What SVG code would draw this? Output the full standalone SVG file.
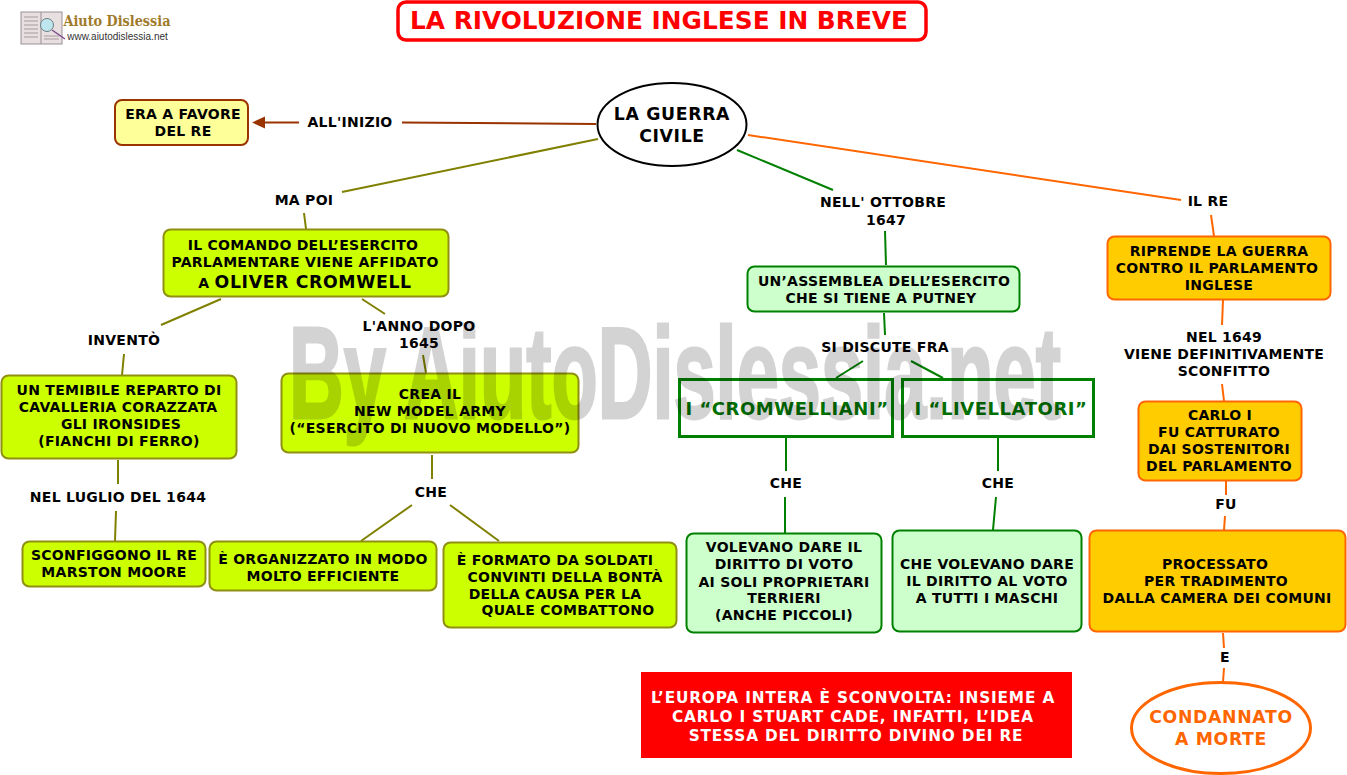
<svg xmlns="http://www.w3.org/2000/svg" width="1347" height="775" viewBox="0 0 1347 775">
<style>
text{font-family:"DejaVu Sans","Liberation Sans",sans-serif;font-weight:bold;font-size:14px;letter-spacing:.27px;text-anchor:middle;fill:#000}
.big{font-size:17.3px;letter-spacing:.65px}
.c{fill:none;stroke-width:2}
.ol{stroke:#808000}.gr{stroke:#008000}.or{stroke:#ff6600}.br{stroke:#993300}
.y{fill:#ccff00;stroke:#8f8f10;stroke-width:2}
.m{fill:#ccffcc;stroke:#008000;stroke-width:2}
.o{fill:#ffcc00;stroke:#ff6600;stroke-width:2}
.b{fill:none;stroke:#008000;stroke-width:3}
.gt{fill:#007000;font-size:18px;letter-spacing:.55px}
.w{fill:#fff;font-size:15.3px;letter-spacing:.85px}
</style>
<rect width="1347" height="775" fill="#fff"/>
<g id="logo">
<rect x="21" y="12" width="41" height="32" fill="#e8dfe0" stroke="#9a8f95"/>
<line x1="41" y1="12" x2="41" y2="44" stroke="#9a8f95"/>
<path d="M24 17H38M24 21H38M24 25H38M24 29H38M24 33H38M24 37H38M44 36H59M44 39H59" stroke="#a89aa0" stroke-width="1"/>
<circle cx="47" cy="25" r="6.500" fill="#bfe6ee" stroke="#6d7f80"/>
<line x1="52" y1="30" x2="65" y2="39" stroke="#7a4a8a" stroke-width="1.500"/>
<text x="117" y="26" style="font-family:'DejaVu Serif',serif;font-size:14px;letter-spacing:0;fill:#a07a2a" textLength="107" lengthAdjust="spacingAndGlyphs">Aiuto Dislessia</text>
<text x="117.500" y="40" style="font-family:'Liberation Sans',sans-serif;font-size:10px;letter-spacing:0;font-weight:normal;fill:#333">www.aiutodislessia.net</text>
</g>
<g id="title"><rect x="398" y="2" width="528" height="38" rx="8" fill="#fff" stroke="#ff0000" stroke-width="3.500"/>
<text x="659" y="29" style="font-size:24px;letter-spacing:0;fill:#ff0000" textLength="498" lengthAdjust="spacingAndGlyphs">LA RIVOLUZIONE INGLESE IN BREVE</text></g>
<g id="connectors">
<path class="c br" d="M299 122.500H265M402 122.500L596 124"/>
<path d="M252 122.500L265 116.500V128.500Z" fill="#993300"/>
<path class="c ol" d="M342 192L598 139M304 213L306 229M221 299L161 325M124 354L122 375M362 299L385 314M423 355L426 373M118 460V484M116 511L115 541M432 455V479M412 505L361 541M450 505L499 541"/>
<path class="c gr" d="M737 150L833 190M885 231L886 265M884 313L885 335M863 361L836 378M911 361L943 378M786 438V471M785 497V533M998 438V471M996 497L993 530"/>
<path class="c or" d="M748 135L1181 200M1211 215L1214 236M1223 300L1222 325M1222 384L1224 401M1226 481V495M1225 516L1224 530M1223 633L1224 648M1224 668L1223 682"/>
</g>
<g id="n-centrale"><ellipse cx="672" cy="124.500" rx="74.500" ry="41.500" fill="#fff" stroke="#000" stroke-width="2"/><text x="672" y="120" class="big">LA GUERRA</text><text x="672" y="142" class="big">CIVILE</text></g>
<g id="n-favore"><rect x="115" y="100" width="133" height="45" rx="7" fill="#ffff99" stroke="#993300" stroke-width="2"/><text x="183" y="119">ERA A FAVORE</text><text x="183" y="136">DEL RE</text></g>
<g id="n-comando"><rect x="163.500" y="229.500" width="285" height="67" rx="7" class="y"/><text x="303" y="250">IL COMANDO DELL’ESERCITO</text><text x="305" y="267">PARLAMENTARE VIENE AFFIDATO</text><text x="305" y="288"><tspan>A </tspan><tspan class="big">OLIVER CROMWELL</tspan></text></g>
<g id="n-reparto"><rect x="1.500" y="375.500" width="235" height="83" rx="7" class="y"/><text x="119" y="395">UN TEMIBILE REPARTO DI</text><text x="118" y="412">CAVALLERIA CORAZZATA</text><text x="121" y="429">GLI IRONSIDES</text><text x="119" y="446">(FIANCHI DI FERRO)</text></g>
<g id="n-crea"><rect x="281.500" y="373.500" width="297" height="79" rx="7" class="y"/><text x="430" y="399">CREA IL</text><text x="430" y="416">NEW MODEL ARMY</text><text x="430" y="433">(“ESERCITO DI NUOVO MODELLO”)</text></g>
<g id="n-sconfiggono"><rect x="22.500" y="541.500" width="183" height="45" rx="7" class="y"/><text x="114" y="560">SCONFIGGONO IL RE</text><text x="114" y="577">MARSTON MOORE</text></g>
<g id="n-organizzato"><rect x="209.500" y="541.500" width="227" height="49" rx="7" class="y"/><text x="323" y="564">È ORGANIZZATO IN MODO</text><text x="323" y="581">MOLTO EFFICIENTE</text></g>
<g id="n-formato"><rect x="443.500" y="542.500" width="233" height="85" rx="7" class="y"/><text x="555" y="565">È FORMATO DA SOLDATI</text><text x="565" y="582">CONVINTI DELLA BONTÀ</text><text x="555" y="599">DELLA CAUSA PER LA</text><text x="568" y="615">QUALE COMBATTONO</text></g>
<g id="n-assemblea"><rect x="747.500" y="266.500" width="272" height="45" rx="7" class="m"/><text x="884" y="286">UN’ASSEMBLEA DELL’ESERCITO</text><text x="881" y="303">CHE SI TIENE A PUTNEY</text></g>
<g id="n-cromwelliani"><rect x="679.500" y="379.500" width="213" height="57" class="b"/><text x="787" y="415" class="gt">I “CROMWELLIANI”</text></g>
<g id="n-livellatori"><rect x="902.500" y="379.500" width="191" height="57" class="b"/><text x="1001" y="415" class="gt">I “LIVELLATORI”</text></g>
<g id="n-volevano"><rect x="686.500" y="533.500" width="195" height="99" rx="7" class="m"/><text x="784" y="552">VOLEVANO DARE IL</text><text x="784" y="569">DIRITTO DI VOTO</text><text x="784" y="587">AI SOLI PROPRIETARI</text><text x="784" y="603">TERRIERI</text><text x="784" y="620">(ANCHE PICCOLI)</text></g>
<g id="n-chevolevano"><rect x="892.500" y="530.500" width="189" height="101" rx="7" class="m"/><text x="987" y="569">CHE VOLEVANO DARE</text><text x="987" y="586">IL DIRITTO AL VOTO</text><text x="987" y="603">A TUTTI I MASCHI</text></g>
<g id="n-riprende"><rect x="1107.500" y="236.500" width="223" height="63" rx="7" class="o"/><text x="1219" y="256">RIPRENDE LA GUERRA</text><text x="1217" y="273">CONTRO IL PARLAMENTO</text><text x="1219" y="290">INGLESE</text></g>
<g id="n-carlo"><rect x="1138.500" y="401.500" width="163" height="79" rx="7" class="o"/><text x="1220" y="420">CARLO I</text><text x="1219" y="437">FU CATTURATO</text><text x="1219" y="454">DAI SOSTENITORI</text><text x="1219" y="471">DEL PARLAMENTO</text></g>
<g id="n-processato"><rect x="1089.500" y="530.500" width="256" height="101" rx="7" class="o"/><text x="1215" y="569">PROCESSATO</text><text x="1216" y="586">PER TRADIMENTO</text><text x="1217" y="603">DALLA CAMERA DEI COMUNI</text></g>
<g id="n-condannato"><ellipse cx="1221" cy="728" rx="89.500" ry="45.500" fill="#fff" stroke="#ff6600" stroke-width="3"/><text x="1221" y="723" class="big" style="fill:#ff6600">CONDANNATO</text><text x="1221" y="745" class="big" style="fill:#ff6600">A MORTE</text></g>
<g id="n-europa"><rect x="641" y="672" width="431" height="86" fill="#ff0000"/><text x="853" y="703" class="w">L’EUROPA INTERA È SCONVOLTA: INSIEME A</text><text x="853" y="722" class="w">CARLO I STUART CADE, INFATTI, L’IDEA</text><text x="856" y="741" class="w">STESSA DEL DIRITTO DIVINO DEI RE</text></g>
<g id="labels">
<text x="350" y="127">ALL'INIZIO</text><text x="304" y="205">MA POI</text><text x="883" y="207">NELL' OTTOBRE</text><text x="886" y="225">1647</text><text x="1208" y="206">IL RE</text>
<text x="124" y="345">INVENTÒ</text><text x="419" y="331">L'ANNO DOPO</text><text x="419" y="348">1645</text><text x="885" y="352">SI DISCUTE FRA</text>
<text x="1224" y="342">NEL 1649</text><text x="1224" y="359">VIENE DEFINITIVAMENTE</text><text x="1224" y="376">SCONFITTO</text>
<text x="118" y="502">NEL LUGLIO DEL 1644</text><text x="431" y="497">CHE</text><text x="786" y="488">CHE</text><text x="998" y="488">CHE</text><text x="1226" y="509">FU</text><text x="1225" y="662">E</text>
</g>
<text id="watermark" x="675" y="418" textLength="772" lengthAdjust="spacingAndGlyphs" opacity=".17" style="font-family:'Liberation Sans',sans-serif;font-size:130px;letter-spacing:0;fill:#000;stroke:#000;stroke-width:3">By AiutoDislessia.net</text>
</svg>
